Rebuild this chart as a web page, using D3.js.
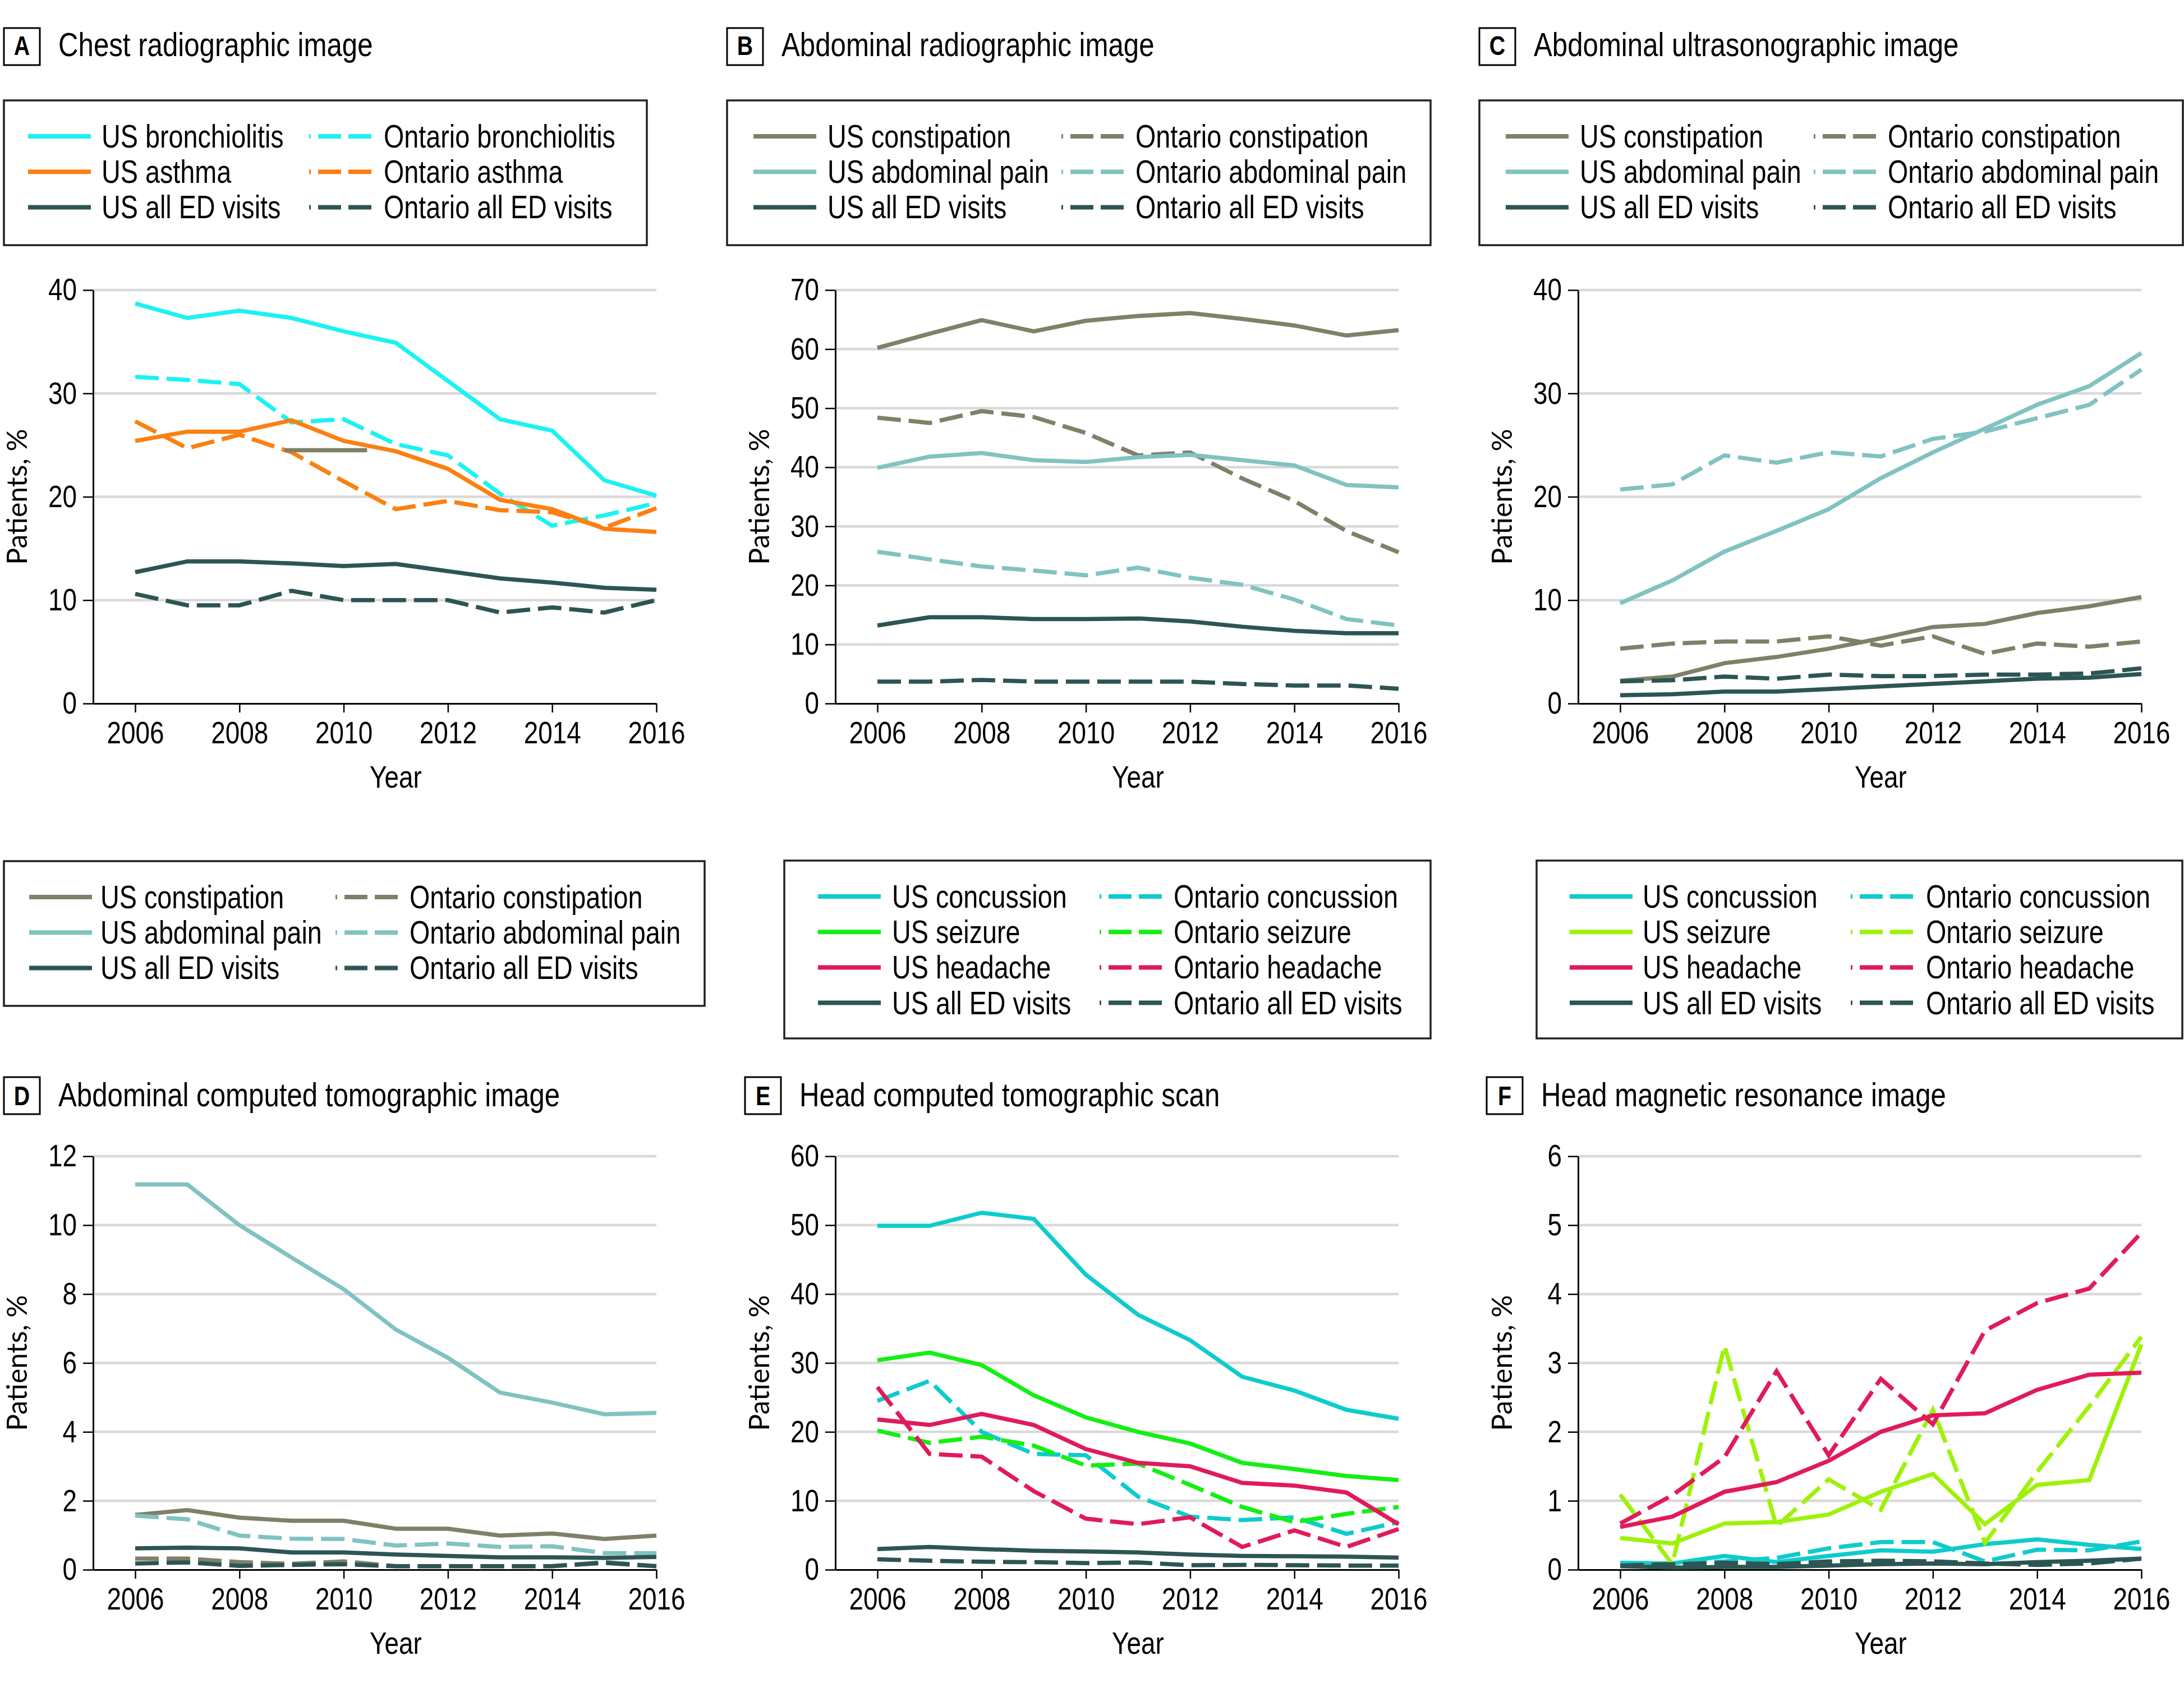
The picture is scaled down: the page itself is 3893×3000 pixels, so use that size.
<!DOCTYPE html>
<html>
<head>
<meta charset="utf-8">
<script src="https://cdn.jsdelivr.net/npm/d3@7"></script>
<style>
  body { margin: 0; background: #fff; }
  svg { display: block; }
</style>
</head>
<body>
<div id="chart"></div>
<script>
// x axis
var years = [2006, 2007, 2008, 2009, 2010, 2011, 2012, 2013, 2014, 2015, 2016];
var yearTicks = [2006, 2008, 2010, 2012, 2014, 2016];

// A - chest radiographic image
var aTicks = [0, 10, 20, 30, 40];
var aCategories = ["bronchiolitis", "asthma", "all ED visits"];
var aUsBronchiolitis = [38.7, 37.3, 38.0, 37.3, 36.0, 34.9, 31.2, 27.5, 26.4, 21.6, 20.1];
var aOnBronchiolitis = [31.6, 31.3, 30.9, 27.2, 27.5, 25.1, 24.0, 20.3, 17.2, 18.2, 19.4];
var aUsAsthma = [25.4, 26.3, 26.3, 27.4, 25.4, 24.4, 22.7, 19.7, 18.8, 16.9, 16.6];
var aOnAsthma = [27.3, 24.7, 26.0, 24.3, 21.5, 18.8, 19.6, 18.7, 18.5, 17.0, 18.9];
var aUsAllEd = [12.7, 13.75, 13.75, 13.55, 13.3, 13.5, 12.8, 12.1, 11.7, 11.2, 11.0];
var aOnAllEd = [10.6, 9.5, 9.5, 10.9, 10.0, 10.0, 10.0, 8.8, 9.3, 8.8, 10.0];
// short grey stroke left in the original figure
var aStrayYears = [2008.87, 2010.45];
var aStrayValues = [24.5, 24.5];

// B - abdominal radiographic image
var bTicks = [0, 10, 20, 30, 40, 50, 60, 70];
var bCategories = ["constipation", "abdominal pain", "all ED visits"];
var bUsConstipation = [60.2, 62.6, 64.9, 63.0, 64.8, 65.6, 66.1, 65.1, 64.0, 62.3, 63.2];
var bOnConstipation = [48.4, 47.5, 49.5, 48.5, 45.8, 42.0, 42.5, 38.1, 34.3, 29.2, 25.6];
var bUsAbdominalPain = [39.9, 41.8, 42.4, 41.2, 40.9, 41.7, 42.1, 41.2, 40.3, 37.0, 36.6];
var bOnAbdominalPain = [25.7, 24.4, 23.2, 22.5, 21.7, 23.0, 21.3, 20.1, 17.6, 14.3, 13.2];
var bUsAllEd = [13.2, 14.6, 14.6, 14.3, 14.3, 14.4, 13.9, 13.0, 12.3, 11.9, 11.9];
var bOnAllEd = [3.7, 3.7, 4.0, 3.7, 3.7, 3.7, 3.7, 3.3, 3.05, 3.05, 2.5];

// C - abdominal ultrasonographic image
var cTicks = [0, 10, 20, 30, 40];
var cCategories = ["constipation", "abdominal pain", "all ED visits"];
var cUsConstipation = [2.2, 2.6, 3.9, 4.5, 5.3, 6.3, 7.4, 7.7, 8.75, 9.4, 10.3];
var cOnConstipation = [5.3, 5.8, 6.0, 6.0, 6.5, 5.6, 6.5, 4.8, 5.8, 5.5, 6.0];
var cUsAbdominalPain = [9.7, 11.9, 14.7, 16.7, 18.8, 21.8, 24.3, 26.6, 28.9, 30.7, 33.9];
var cOnAbdominalPain = [20.7, 21.2, 24.0, 23.3, 24.3, 23.9, 25.6, 26.3, 27.6, 28.9, 32.3];
var cUsAllEd = [0.8, 0.9, 1.15, 1.15, 1.4, 1.65, 1.9, 2.15, 2.4, 2.5, 2.85];
var cOnAllEd = [2.15, 2.25, 2.6, 2.4, 2.8, 2.65, 2.65, 2.8, 2.8, 2.9, 3.4];

// D - abdominal computed tomographic image
var dTicks = [0, 2, 4, 6, 8, 10, 12];
var dCategories = ["constipation", "abdominal pain", "all ED visits"];
var dUsConstipation = [1.59, 1.73, 1.51, 1.42, 1.42, 1.19, 1.19, 0.99, 1.05, 0.89, 0.99];
var dOnConstipation = [0.32, 0.32, 0.22, 0.17, 0.24, 0.1, 0.1, 0.1, 0.1, 0.22, 0.1];
var dUsAbdominalPain = [11.18, 11.18, 10.0, 9.06, 8.14, 6.97, 6.15, 5.14, 4.85, 4.51, 4.55];
var dOnAbdominalPain = [1.57, 1.46, 0.99, 0.9, 0.89, 0.7, 0.76, 0.66, 0.68, 0.48, 0.48];
var dUsAllEd = [0.62, 0.64, 0.62, 0.5, 0.5, 0.44, 0.4, 0.36, 0.36, 0.34, 0.37];
var dOnAllEd = [0.18, 0.21, 0.11, 0.14, 0.16, 0.1, 0.1, 0.1, 0.1, 0.2, 0.1];

// E - head computed tomographic scan
var eTicks = [0, 10, 20, 30, 40, 50, 60];
var eCategories = ["concussion", "seizure", "headache", "all ED visits"];
var eUsConcussion = [49.9, 49.9, 51.8, 50.9, 42.8, 37.0, 33.3, 28.0, 26.0, 23.2, 21.9];
var eOnConcussion = [24.5, 27.4, 20.0, 16.8, 16.6, 10.6, 7.7, 7.2, 7.6, 5.2, 6.9];
var eUsSeizure = [30.4, 31.5, 29.7, 25.3, 22.1, 20.0, 18.3, 15.5, 14.6, 13.6, 13.0];
var eOnSeizure = [20.2, 18.4, 19.3, 18.0, 15.1, 15.4, 12.3, 9.1, 6.9, 8.1, 9.1];
var eUsHeadache = [21.8, 21.0, 22.6, 21.0, 17.5, 15.5, 15.0, 12.6, 12.2, 11.2, 6.6];
var eOnHeadache = [26.5, 16.8, 16.4, 11.4, 7.4, 6.6, 7.6, 3.3, 5.7, 3.3, 5.9];
var eUsAllEd = [3.0, 3.3, 3.0, 2.75, 2.65, 2.5, 2.2, 2.0, 1.95, 1.9, 1.75];
var eOnAllEd = [1.5, 1.3, 1.15, 1.1, 0.95, 1.05, 0.65, 0.7, 0.65, 0.6, 0.6];

// F - head magnetic resonance image
var fTicks = [0, 1, 2, 3, 4, 5, 6];
var fCategories = ["concussion", "seizure", "headache", "all ED visits"];
var fUsConcussion = [0.1, 0.09, 0.2, 0.11, 0.2, 0.28, 0.26, 0.37, 0.44, 0.36, 0.3];
var fOnConcussion = [0.09, 0.09, 0.12, 0.17, 0.31, 0.4, 0.4, 0.12, 0.29, 0.28, 0.41];
var fUsSeizure = [0.46, 0.38, 0.67, 0.69, 0.8, 1.13, 1.39, 0.66, 1.23, 1.3, 3.27];
var fOnSeizure = [1.09, 0.08, 3.25, 0.63, 1.31, 0.87, 2.32, 0.39, 1.42, 2.37, 3.38];
var fUsHeadache = [0.62, 0.77, 1.13, 1.27, 1.58, 2.0, 2.24, 2.27, 2.61, 2.83, 2.86];
var fOnHeadache = [0.67, 1.08, 1.63, 2.88, 1.66, 2.77, 2.11, 3.47, 3.87, 4.08, 4.89];
var fUsAllEd = [0.05, 0.03, 0.04, 0.04, 0.06, 0.08, 0.09, 0.08, 0.11, 0.13, 0.16];
var fOnAllEd = [0.06, 0.08, 0.1, 0.08, 0.12, 0.13, 0.12, 0.09, 0.07, 0.09, 0.16];

// colours
var CYAN = "#1cf2f2", ORANGE = "#fb8012", DARK = "#2c5553", OLIVE = "#808069",
    TEAL = "#80c3c1", CONC = "#0fcbcc", GREEN = "#14ef14", LIME = "#9ef20a", RED = "#e01b5b";

var W = 3893, H = 3000;
var FONT = "'Liberation Sans', Arial, sans-serif";
var SQ = 0.82;               // horizontal squeeze to get the condensed look
var DASH = "42,14";

// layout
var colAxisX = [166, 1489, 2813];
var plotW = 1004, firstYearOffset = 75;
var rowTop = [517, 2061], rowBottom = [1254, 2798];
var titleBoxY = [50, 1920], titleBase = [100, 1972];

var panels = [
  {letter: "A", title: "Chest radiographic image", col: 0, row: 0, yMax: 40, ticks: aTicks,
   cats: aCategories, colors: [CYAN, ORANGE, DARK],
   us: [aUsBronchiolitis, aUsAsthma, aUsAllEd], on: [aOnBronchiolitis, aOnAsthma, aOnAllEd],
   boxX: 7, leg: {x: 7, y: 179, w: 1146, h: 258, s1: 43, t1: 174, s2: 544, t2: 677}},
  {letter: "B", title: "Abdominal radiographic image", col: 1, row: 0, yMax: 70, ticks: bTicks,
   cats: bCategories, colors: [OLIVE, TEAL, DARK],
   us: [bUsConstipation, bUsAbdominalPain, bUsAllEd], on: [bOnConstipation, bOnAbdominalPain, bOnAllEd],
   boxX: 1296, leg: {x: 1296, y: 179, w: 1254, h: 258, s1: 47, t1: 179, s2: 596, t2: 728}},
  {letter: "C", title: "Abdominal ultrasonographic image", col: 2, row: 0, yMax: 40, ticks: cTicks,
   cats: cCategories, colors: [OLIVE, TEAL, DARK],
   us: [cUsConstipation, cUsAbdominalPain, cUsAllEd], on: [cOnConstipation, cOnAbdominalPain, cOnAllEd],
   boxX: 2637, leg: {x: 2637, y: 179, w: 1254, h: 258, s1: 47, t1: 179, s2: 596, t2: 728}},
  {letter: "D", title: "Abdominal computed tomographic image", col: 0, row: 1, yMax: 12, ticks: dTicks,
   cats: dCategories, colors: [OLIVE, TEAL, DARK],
   us: [dUsConstipation, dUsAbdominalPain, dUsAllEd], on: [dOnConstipation, dOnAbdominalPain, dOnAllEd],
   boxX: 7, leg: {x: 7, y: 1535, w: 1249, h: 258, s1: 45, t1: 172, s2: 591, t2: 723}},
  {letter: "E", title: "Head computed tomographic scan", col: 1, row: 1, yMax: 60, ticks: eTicks,
   cats: eCategories, colors: [CONC, GREEN, RED, DARK],
   us: [eUsConcussion, eUsSeizure, eUsHeadache, eUsAllEd], on: [eOnConcussion, eOnSeizure, eOnHeadache, eOnAllEd],
   boxX: 1328, leg: {x: 1398, y: 1534, w: 1152, h: 317, s1: 60, t1: 192, s2: 562, t2: 694}},
  {letter: "F", title: "Head magnetic resonance image", col: 2, row: 1, yMax: 6, ticks: fTicks,
   cats: fCategories, colors: [CONC, LIME, RED, DARK],
   us: [fUsConcussion, fUsSeizure, fUsHeadache, fUsAllEd], on: [fOnConcussion, fOnSeizure, fOnHeadache, fOnAllEd],
   boxX: 2650, leg: {x: 2739, y: 1534, w: 1151, h: 317, s1: 59, t1: 189, s2: 560, t2: 694}}
];

var svg = d3.select("#chart").append("svg")
  .attr("width", W).attr("height", H)
  .style("font-family", FONT);
svg.append("rect").attr("width", W).attr("height", H).attr("fill", "#fff");

function squeezedText(g, x, y, str, size, anchor) {
  return g.append("text")
    .attr("transform", "translate(" + x + "," + y + ") scale(" + SQ + ",1)")
    .attr("font-size", size)
    .attr("text-anchor", anchor || "start")
    .attr("fill", "#000")
    .text(str);
}

panels.forEach(function(p) {
  var g = svg.append("g");
  var axisX = colAxisX[p.col];
  var top = rowTop[p.row], bottom = rowBottom[p.row];
  var padYears = firstYearOffset / ((plotW - firstYearOffset) / 10);

  var x = d3.scaleLinear().domain([2006 - padYears, 2016]).range([axisX, axisX + plotW]);
  var y = d3.scaleLinear().domain([0, p.yMax]).range([bottom, top]);

  // title
  g.append("rect").attr("x", p.boxX).attr("y", titleBoxY[p.row])
    .attr("width", 64).attr("height", 66)
    .attr("fill", "none").attr("stroke", "#000").attr("stroke-width", 3);
  squeezedText(g, p.boxX + 32, titleBase[p.row] - 2, p.letter, 48, "middle").attr("font-weight", "bold");
  squeezedText(g, p.boxX + 97, titleBase[p.row], p.title, 60);

  // legend
  var L = p.leg;
  g.append("rect").attr("x", L.x).attr("y", L.y).attr("width", L.w).attr("height", L.h)
    .attr("fill", "none").attr("stroke", "#222").attr("stroke-width", 3.5);
  p.cats.forEach(function(c, i) {
    var ly = L.y + 64 + i * 63.2;
    g.append("line").attr("x1", L.x + L.s1).attr("x2", L.x + L.s1 + 112)
      .attr("y1", ly).attr("y2", ly)
      .attr("stroke", p.colors[i]).attr("stroke-width", 8);
    squeezedText(g, L.x + L.t1, ly + 20, "US " + c, 57);
    g.append("line").attr("x1", L.x + L.s2).attr("x2", L.x + L.s2 + 112)
      .attr("y1", ly).attr("y2", ly)
      .attr("stroke", p.colors[i]).attr("stroke-width", 8)
      .attr("stroke-dasharray", "41,13").attr("stroke-dashoffset", 38);
    squeezedText(g, L.x + L.t2, ly + 20, "Ontario " + c, 57);
  });

  // grid
  g.append("g").selectAll("line")
    .data(p.ticks.filter(function(t) { return t > 0; }))
    .enter().append("line")
    .attr("x1", axisX).attr("x2", x(2016))
    .attr("y1", function(d) { return y(d); }).attr("y2", function(d) { return y(d); })
    .attr("stroke", "#d9d9d9").attr("stroke-width", 4.5);

  // axes
  var yAxis = g.append("g").attr("transform", "translate(" + axisX + ",0)")
    .call(d3.axisLeft(y).tickValues(p.ticks).tickFormat(d3.format("d"))
      .tickSize(18).tickPadding(17.4).tickSizeOuter(0));
  var xAxis = g.append("g").attr("transform", "translate(0," + bottom + ")")
    .call(d3.axisBottom(x).tickValues(yearTicks).tickFormat(d3.format("d"))
      .tickSize(16).tickPadding(15).tickSizeOuter(0));
  [yAxis, xAxis].forEach(function(ax) {
    ax.attr("font-family", FONT).attr("font-size", 56);
    ax.select(".domain").attr("stroke", "#000").attr("stroke-width", 3);
    ax.selectAll(".tick line").attr("stroke", "#000").attr("stroke-width", 2.5);
    ax.selectAll(".tick text").attr("fill", "#000").attr("transform", "scale(" + SQ + ",1)");
  });

  squeezedText(g, x(2011), bottom + 150, "Year", 56, "middle");
  g.append("text")
    .attr("transform", "translate(" + (axisX - 137) + "," + ((top + bottom) / 2) + ") rotate(-90)")
    .attr("text-anchor", "middle").attr("dominant-baseline", "central")
    .attr("font-family", "Lato, 'Open Sans', sans-serif").attr("font-size", 50)
    .attr("fill", "#000")
    .text("Patients, %");

  // lines
  var line = d3.line()
    .x(function(d, i) { return x(years[i]); })
    .y(function(d) { return y(d); });
  p.cats.forEach(function(c, i) {
    g.append("path").datum(p.us[i]).attr("d", line)
      .attr("fill", "none").attr("stroke", p.colors[i]).attr("stroke-width", 7.5);
    g.append("path").datum(p.on[i]).attr("d", line)
      .attr("fill", "none").attr("stroke", p.colors[i]).attr("stroke-width", 7.5)
      .attr("stroke-dasharray", DASH);
  });

  if (p.letter === "A") {
    g.append("path").datum(aStrayValues)
      .attr("d", d3.line().x(function(d, i) { return x(aStrayYears[i]); }).y(function(d) { return y(d); }))
      .attr("fill", "none").attr("stroke", OLIVE).attr("stroke-width", 7.5);
  }
});
</script>
</body>
</html>
